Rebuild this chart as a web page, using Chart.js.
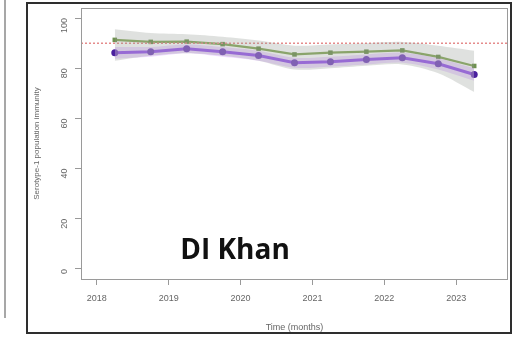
<!DOCTYPE html>
<html>
<head>
<meta charset="utf-8">
<script src="https://cdn.jsdelivr.net/npm/chart.js@4/dist/chart.umd.min.js"></script>
<style>
  html, body { margin: 0; padding: 0; background: #fff; }
  #wrap { position: relative; width: 519px; height: 337px; }
  canvas { display: block; }
</style>
</head>
<body>
<div id="wrap"><canvas id="c" width="519" height="337"></canvas></div>
<script>
// Survey rounds (decimal years) and serotype-1 population immunity estimates (%)
const rounds = [2018.25, 2018.75, 2019.25, 2019.75, 2020.25, 2020.75, 2021.25, 2021.75, 2022.25, 2022.75, 2023.25];

const modelA      = [91.3, 90.5, 90.6, 89.6, 87.8, 85.5, 86.2, 86.6, 87.1, 84.5, 80.9];
const modelAUpper = [95.5, 94.0, 93.5, 92.5, 91.0, 89.0, 89.5, 90.0, 90.5, 89.0, 87.0];
const modelALower = [83.0, 85.0, 86.0, 85.0, 83.0, 79.5, 80.0, 81.0, 81.5, 78.0, 70.5];

const modelB      = [86.2, 86.6, 87.8, 86.6, 85.1, 82.2, 82.6, 83.5, 84.2, 81.8, 77.5];
const modelBUpper = [88.5, 88.5, 89.5, 88.5, 87.0, 84.2, 84.6, 85.5, 86.2, 84.0, 80.0];
const modelBLower = [83.8, 84.6, 86.0, 84.6, 83.0, 80.2, 80.6, 81.5, 82.2, 79.5, 75.0];

const targetLevel = 90;

const yearTicks = [2018, 2019, 2020, 2021, 2022, 2023];
const immunityTicks = [0, 20, 40, 60, 80, 100];

const toPoints = vals => vals.map((v, i) => ({ x: rounds[i], y: v }));

const xMin = 2017.78, xMax = 2023.72;

// Panel frame, plot box and district label
const decor = {
  id: 'decor',
  afterDraw(chart) {
    const { ctx, chartArea: a } = chart;
    ctx.save();
    // plot box
    ctx.strokeStyle = '#9a9a9a';
    ctx.lineWidth = 1;
    ctx.strokeRect(a.left + 0.5, a.top + 0.5, a.right - a.left - 1, a.bottom - a.top);
    // panel frame
    ctx.strokeStyle = '#2e2e2e';
    ctx.lineWidth = 2;
    ctx.strokeRect(27, 3, 484, 330);
    // edge of neighbouring panel
    ctx.strokeStyle = '#8a8a8a';
    ctx.lineWidth = 1.5;
    ctx.beginPath();
    ctx.moveTo(5, 0);
    ctx.lineTo(5, 318);
    ctx.stroke();
    // district name
    ctx.fillStyle = '#111';
    ctx.font = 'bold 28px "Open Sans", "Liberation Sans", sans-serif';
    ctx.textAlign = 'center';
    ctx.textBaseline = 'alphabetic';
    ctx.fillText('DI Khan', 235, 259);
    ctx.restore();
  }
};

new Chart(document.getElementById('c'), {
  type: 'line',
  data: {
    datasets: [
      { data: toPoints(modelAUpper), borderWidth: 0, pointRadius: 0, fill: '+1',
        backgroundColor: 'rgba(150,155,150,0.30)', tension: 0.3 },
      { data: toPoints(modelALower), borderWidth: 0, pointRadius: 0, fill: false, tension: 0.3 },
      { data: toPoints(modelBUpper), borderWidth: 0, pointRadius: 0, fill: '+1',
        backgroundColor: 'rgba(205,150,255,0.35)', tension: 0.3 },
      { data: toPoints(modelBLower), borderWidth: 0, pointRadius: 0, fill: false, tension: 0.3 },
      { data: [{ x: xMin, y: targetLevel }, { x: xMax, y: targetLevel }],
        borderColor: '#e58b8b', borderWidth: 1.5, borderDash: [2, 2], pointRadius: 0, fill: false },
      { data: toPoints(modelA), borderColor: '#86a85a', borderWidth: 2.2,
        pointRadius: 3.2, pointStyle: 'rect', pointBackgroundColor: '#6f9150', pointBorderWidth: 0, fill: false },
      { data: toPoints(modelB), borderColor: '#7d35e6', borderWidth: 3,
        pointRadius: 3.5, pointBackgroundColor: '#4a1f9e', pointBorderWidth: 0, fill: false }
    ]
  },
  options: {
    responsive: false,
    animation: false,
    layout: { padding: { top: 8, right: 11, left: 28, bottom: 0 } },
    plugins: { legend: { display: false }, tooltip: { enabled: false } },
    scales: {
      x: {
        type: 'linear',
        min: xMin, max: xMax,
        afterBuildTicks: s => { s.ticks = yearTicks.map(v => ({ value: v })); },
        afterFit: s => { s.height = 58; s.paddingLeft = 0; s.paddingRight = 0; },
        grid: { drawOnChartArea: false, tickLength: 6, color: '#999', tickColor: '#999' },
        border: { display: false },
        ticks: { color: '#666', font: { size: 9, family: 'Liberation Sans' }, padding: 8,
                 maxRotation: 0, callback: v => String(v) },
        title: { display: true, text: 'Time (months)', color: '#666',
                 font: { size: 9, family: 'Liberation Sans' }, padding: { top: 9 } }
      },
      y: {
        min: -4, max: 104,
        afterBuildTicks: s => { s.ticks = immunityTicks.map(v => ({ value: v })); },
        afterFit: s => { s.width = 53; s.paddingTop = 0; s.paddingBottom = 0; },
        grid: { drawOnChartArea: false, tickLength: 6, color: '#999', tickColor: '#999' },
        border: { display: false },
        ticks: { color: '#666', font: { size: 9, family: 'Liberation Sans' }, padding: 10,
                 minRotation: 90, maxRotation: 90, callback: v => String(v) },
        title: { display: true, text: 'Serotype-1 population immunity', color: '#666',
                 font: { size: 8, family: 'Liberation Sans' }, padding: { top: 4, bottom: 0 } }
      }
    }
  },
  plugins: [decor]
});
</script>
</body>
</html>
